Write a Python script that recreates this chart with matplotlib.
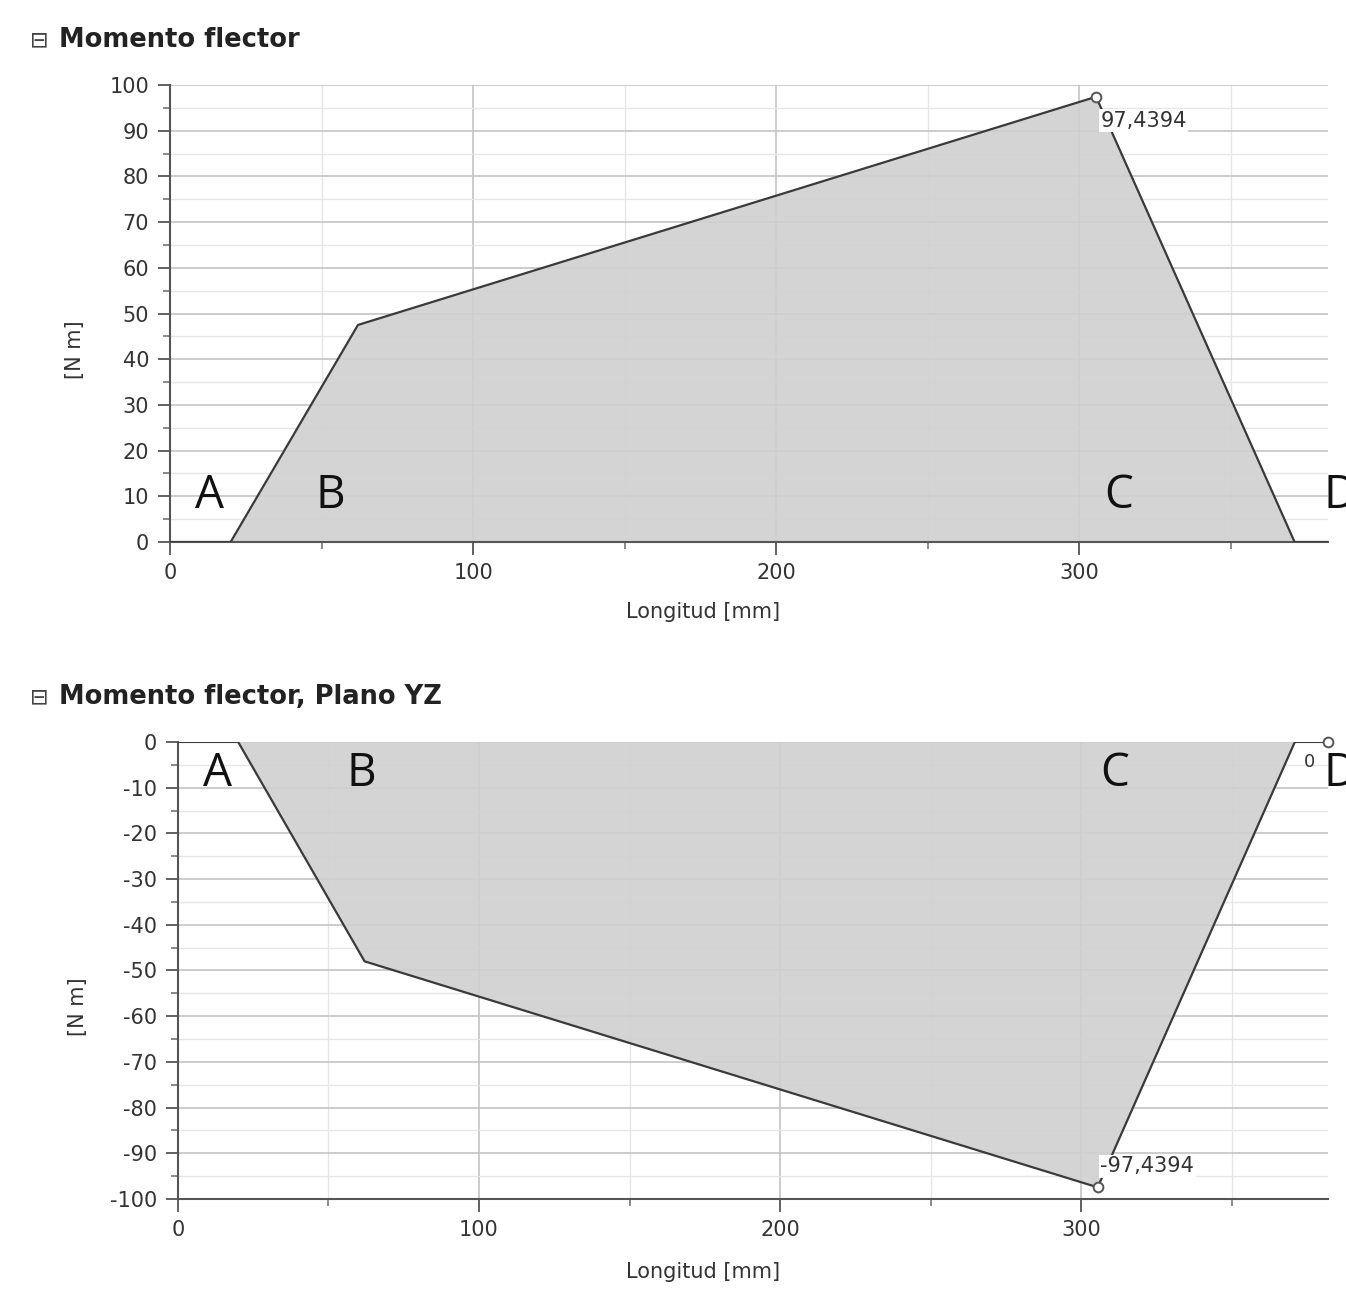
import matplotlib.pyplot as plt
from matplotlib.ticker import MultipleLocator

plt.rcParams['axes.unicode_minus'] = False

# ------------------ DATA ------------------
longitud = [0, 20, 62, 305.5, 371, 382]
momento = [0, 0, 47.5, 97.4394, 0, 0]
momento_yz = [0, 0, -48, -97.4394, 0, 0]

puntos = ['A', 'B', 'C', 'D']
x_puntos_top = [13, 53, 313, 386]
x_puntos_bot = [13, 61, 311, 386]

line_c = '#3a3a3a'
fill_c = '#d0d0d0'
text_c = '#333333'

fig = plt.figure(figsize=(13.46, 12.89), dpi=100)
ax1 = fig.add_axes([0.1263, 0.5795, 0.8603, 0.3545])
ax2 = fig.add_axes([0.1322, 0.0698, 0.8544, 0.3546])


def style(ax, ylo, yhi, ylab_xy, xlab_xy):
    ax.set_xlim(0, 382)
    ax.set_ylim(ylo, yhi)
    ax.xaxis.set_major_locator(MultipleLocator(100))
    ax.xaxis.set_minor_locator(MultipleLocator(50))
    ax.yaxis.set_major_locator(MultipleLocator(10))
    ax.yaxis.set_minor_locator(MultipleLocator(5))
    ax.grid(which='major', color='#c4c4c4', lw=1.2)
    ax.grid(which='minor', color='#e6e6e6', lw=1.0)
    ax.set_axisbelow(True)
    for s in ['top', 'right']:
        ax.spines[s].set_visible(False)
    for s in ['left', 'bottom']:
        ax.spines[s].set_color('#555555')
        ax.spines[s].set_linewidth(1.5)
    ax.tick_params(which='major', length=9, width=1.3, color='#555555',
                   labelsize=15, labelcolor=text_c, pad=6)
    ax.tick_params(which='minor', length=5, width=1.2, color='#777777')
    ax.set_ylabel('[N m]', fontsize=15, color=text_c, va='center')
    ax.set_xlabel('Longitud [mm]', fontsize=15, color=text_c, va='center')
    ax.yaxis.set_label_coords(*ylab_xy)
    ax.xaxis.set_label_coords(*xlab_xy)


# ------------------ MOMENTO FLECTOR ------------------
style(ax1, 0, 100, (-0.082, 0.42), (0.46, -0.153))
ax1.fill_between(longitud, momento, 0, color=fill_c, alpha=0.9, lw=0, zorder=2)
ax1.plot(longitud, momento, color=line_c, lw=1.6, zorder=3)
ax1.plot(longitud[3], momento[3], 'o', ms=7, mfc='white', mec='#555555', mew=1.4, zorder=4, clip_on=False)
ax1.annotate('97,4394', (longitud[3], momento[3]), xytext=(3, -10), textcoords='offset points',
             ha='left', va='top', fontsize=15, color=text_c,
             bbox=dict(facecolor='white', edgecolor='none', pad=1), zorder=5)
for p, xp in zip(puntos, x_puntos_top):
    ax1.text(xp, 10, p, fontsize=33, family='Open Sans', ha='center', va='center',
             color='#111111', clip_on=False, zorder=6)
fig.text(0.022, 0.969, '⊟', fontsize=16, color='#444444', va='center')
fig.text(0.044, 0.969, 'Momento flector', fontsize=18.5, fontweight='bold',
         color='#222222', va='center')

# ------------------ MOMENTO FLECTOR, PLANO YZ ------------------
style(ax2, -100, 0, (-0.087, 0.42), (0.457, -0.16))
ax2.fill_between(longitud, momento_yz, 0, color=fill_c, alpha=0.9, lw=0, zorder=2)
ax2.plot(longitud, momento_yz, color=line_c, lw=1.6, zorder=3)
ax2.plot(longitud[3], momento_yz[3], 'o', ms=7, mfc='white', mec='#555555', mew=1.4, zorder=4, clip_on=False)
ax2.plot(longitud[-1], momento_yz[-1], 'o', ms=7, mfc='white', mec='#555555', mew=1.4, zorder=4, clip_on=False)
ax2.annotate('-97,4394', (longitud[3], momento_yz[3]), xytext=(2, 8), textcoords='offset points',
             ha='left', va='bottom', fontsize=15, color=text_c,
             bbox=dict(facecolor='white', edgecolor='none', pad=1), zorder=5)
ax2.annotate('0', (longitud[-1], momento_yz[-1]), xytext=(-13, -8), textcoords='offset points',
             ha='center', va='top', fontsize=13, color=text_c, zorder=5)
for p, xp in zip(puntos, x_puntos_bot):
    ax2.text(xp, -7, p, fontsize=33, family='Open Sans', ha='center', va='center',
             color='#111111', clip_on=False, zorder=6)
fig.text(0.022, 0.459, '⊟', fontsize=16, color='#444444', va='center')
fig.text(0.044, 0.459, 'Momento flector, Plano YZ', fontsize=18.5, fontweight='bold',
         color='#222222', va='center')

fig.savefig('out.png', dpi=100, facecolor='white')
